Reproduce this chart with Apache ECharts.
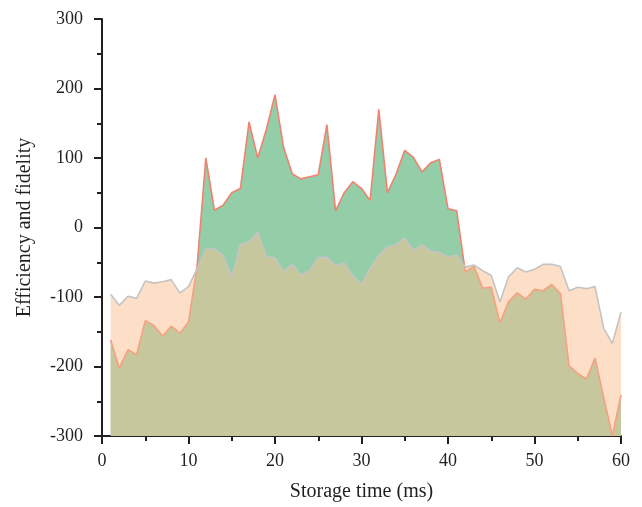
<!DOCTYPE html>
<html>
<head>
<meta charset="utf-8">
<script src="https://cdn.jsdelivr.net/npm/echarts@6/dist/echarts.min.js"></script>
<style>
  html, body { margin: 0; padding: 0; background: #fff; }
  #chart { width: 642px; height: 507px; }
</style>
</head>
<body>
<div id="chart"></div>
<script>
// ─── Data ────────────────────────────────────────
const storageTime = [
  1, 2, 3, 4, 5, 6, 7, 8, 9, 10,
  11, 12, 13, 14, 15, 16, 17, 18, 19, 20,
  21, 22, 23, 24, 25, 26, 27, 28, 29, 30,
  31, 32, 33, 34, 35, 36, 37, 38, 39, 40,
  41, 42, 43, 44, 45, 46, 47, 48, 49, 50,
  51, 52, 53, 54, 55, 56, 57, 58, 59, 60
];

// red outline, green fill
const efficiency = [
  -162, -202, -176, -183, -134, -141, -156, -142, -152, -136,
  -55, 100, 25, 32, 50, 56, 152, 100, 141, 191,
  115, 77, 70, 73, 76, 148, 24, 50, 66, 56,
  39, 170, 50, 77, 111, 101, 80, 93, 98, 27,
  24, -64, -56, -87, -86, -137, -107, -94, -103, -89,
  -91, -82, -95, -199, -210, -218, -188, -244, -300, -241
];

// grey outline, peach fill
const fidelity = [
  -96, -112, -99, -102, -77, -80, -78, -75, -94, -85,
  -59, -31, -31, -40, -71, -24, -21, -7, -42, -44,
  -63, -53, -68, -62, -43, -43, -54, -51, -70, -81,
  -59, -40, -28, -25, -15, -33, -25, -34, -36, -42,
  -40, -57, -54, -62, -69, -107, -71, -58, -64, -60,
  -53, -53, -56, -91, -86, -88, -85, -145, -167, -122
];

const xTicks = { min: 0, max: 60, interval: 10 };
const yTicks = { min: -300, max: 300, interval: 100 };

// ─── Chart ───────────────────────────────────────
const FONT = "'Liberation Serif', 'DejaVu Serif', serif";
const INK = '#231f20';

const chart = echarts.init(document.getElementById('chart'));

const axisCommon = {
  axisLine: { show: true, onZero: false, lineStyle: { color: INK, width: 2 } },
  axisTick: { show: true, inside: false, length: 8, lineStyle: { color: INK, width: 2 } },
  minorTick: { show: true, splitNumber: 2, length: 5, lineStyle: { color: INK, width: 2 } },
  splitLine: { show: false },
  axisLabel: { color: INK, fontFamily: FONT, fontSize: 18 },
  nameTextStyle: { color: INK, fontFamily: FONT, fontSize: 20 }
};

chart.setOption({
  animation: false,
  grid: { left: 102, right: 21, top: 19, bottom: 69 },
  xAxis: {
    type: 'value',
    min: xTicks.min,
    max: xTicks.max,
    interval: xTicks.interval,
    name: 'Storage time (ms)',
    nameLocation: 'middle',
    nameGap: 46,
    ...axisCommon,
    axisLabel: { ...axisCommon.axisLabel, margin: 16 }
  },
  yAxis: {
    type: 'value',
    min: yTicks.min,
    max: yTicks.max,
    interval: yTicks.interval,
    name: 'Efficiency and fidelity',
    nameLocation: 'middle',
    nameGap: 67,
    ...axisCommon,
    axisLabel: { ...axisCommon.axisLabel, margin: 19 }
  },
  series: [
    {
      name: 'Efficiency',
      type: 'line',
      data: storageTime.map((t, i) => [t, efficiency[i]]),
      showSymbol: false,
      symbol: 'none',
      lineStyle: { color: '#f08270', width: 1.6 },
      areaStyle: { color: '#93cea8', opacity: 1, origin: 'start' },
      z: 2
    },
    {
      name: 'Fidelity',
      type: 'line',
      data: storageTime.map((t, i) => [t, fidelity[i]]),
      showSymbol: false,
      symbol: 'none',
      lineStyle: { color: '#c4c4c4', width: 1.6 },
      areaStyle: { color: 'rgba(251,192,145,0.5)', opacity: 1, origin: 'start' },
      z: 3
    }
  ]
});
</script>
</body>
</html>
